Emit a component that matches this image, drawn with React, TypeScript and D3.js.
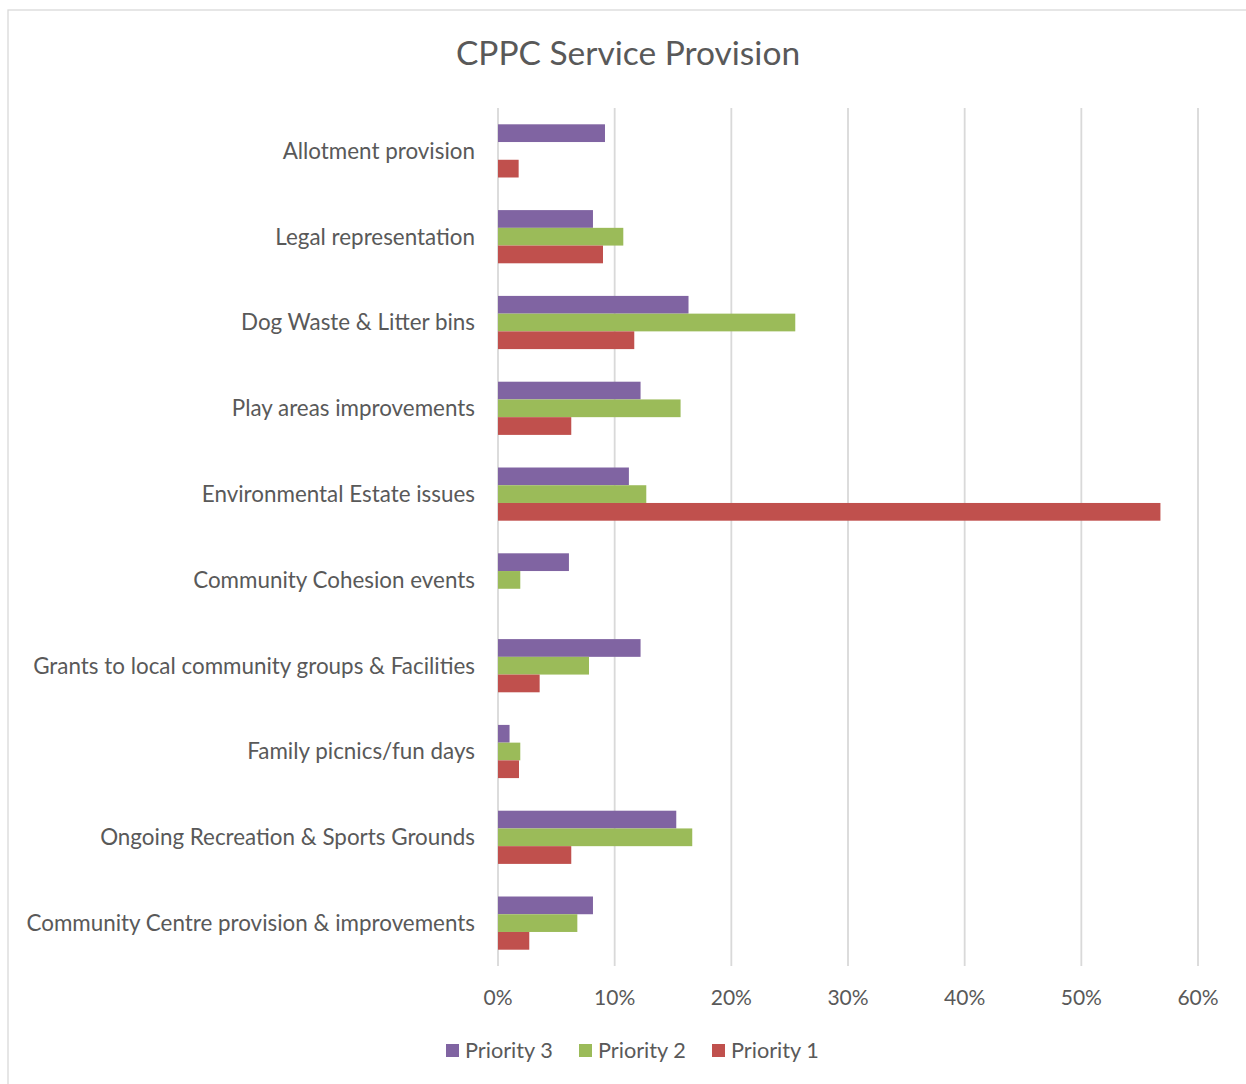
import React from "react";
import * as d3 from "d3";

const categories = [
  "Allotment provision",
  "Legal representation",
  "Dog Waste & Litter bins",
  "Play areas improvements",
  "Environmental Estate issues",
  "Community Cohesion events",
  "Grants to local community groups & Facilities",
  "Family picnics/fun days",
  "Ongoing Recreation & Sports Grounds",
  "Community Centre provision & improvements",
];
const seriesNames = ["Priority 3", "Priority 2", "Priority 1"];
const seriesColors = ["#8064A2", "#9BBB59", "#C0504D"];
const priority3 = [9.17, 8.14, 16.33, 12.22, 11.22, 6.08, 12.22, 0.99, 15.28, 8.14];
const priority2 = [0, 10.74, 25.48, 15.65, 12.71, 1.91, 7.8, 1.91, 16.65, 6.8];
const priority1 = [1.77, 9.0, 11.68, 6.28, 56.78, 0, 3.57, 1.8, 6.28, 2.68];
const xTicks = [0, 10, 20, 30, 40, 50, 60];

const W = 1246;
const H = 1084;
const FONT = "Lato, 'Open Sans', sans-serif";
const TXT = "#595959";

export default function App() {
  const margin = { left: 498, right: 48, top: 108, bottom: 118 };
  const x = d3.scaleLinear().domain([0, 60]).range([margin.left, W - margin.right]);
  const y = d3
    .scaleBand<string>()
    .domain(categories)
    .range([margin.top, H - margin.bottom])
    .paddingInner(0.38)
    .paddingOuter(0.19);
  const yInner = d3.scaleBand<string>().domain(seriesNames).range([0, y.bandwidth()]);
  const seriesValues = [priority3, priority2, priority1];
  const plotBottom = H - margin.bottom;

  const legendX = d3.scalePoint<string>().domain(seriesNames).range([446, 712]);

  return (
    <svg width={W} height={H} style={{ display: "block", position: "absolute", left: 0, top: 0 }}>
      <rect x={0} y={0} width={W} height={H} fill="#fff" />
      <rect x={8} y={10} width={W + 10} height={H + 10} fill="#fff" stroke="#d9d9d9" strokeWidth={1.3} />
      <text x={628} y={65} textAnchor="middle" fontFamily={FONT} fontSize={33.5} fill={TXT}>
        CPPC Service Provision
      </text>
      {xTicks.map((t) => (
        <line key={"g" + t} x1={x(t)} x2={x(t)} y1={margin.top} y2={plotBottom} stroke="#d9d9d9" strokeWidth={1.8} />
      ))}
      {categories.map((c, i) => (
        <g key={c}>
          {seriesNames.map((s, j) => {
            const v = seriesValues[j][i];
            if (!v) return null;
            return (
              <rect
                key={s}
                x={x(0)}
                y={(y(c) as number) + (yInner(s) as number)}
                width={x(v) - x(0)}
                height={yInner.bandwidth()}
                fill={seriesColors[j]}
              />
            );
          })}
          <text
            x={475}
            y={(y(c) as number) + y.bandwidth() / 2}
            dy="0.35em"
            textAnchor="end"
            fontFamily={FONT}
            fontSize={22.4}
            fill={TXT}
          >
            {c}
          </text>
        </g>
      ))}
      {xTicks.map((t) => (
        <text key={"t" + t} x={x(t)} y={1005} textAnchor="middle" fontFamily={FONT} fontSize={21} fill={TXT}>
          {t}%
        </text>
      ))}
      {seriesNames.map((s, j) => (
        <g key={"l" + s}>
          <rect x={legendX(s)} y={1044} width={13} height={13} fill={seriesColors[j]} />
          <text x={(legendX(s) as number) + 19} y={1058} fontFamily={FONT} fontSize={21.7} fill={TXT}>
            {s}
          </text>
        </g>
      ))}
    </svg>
  );
}
